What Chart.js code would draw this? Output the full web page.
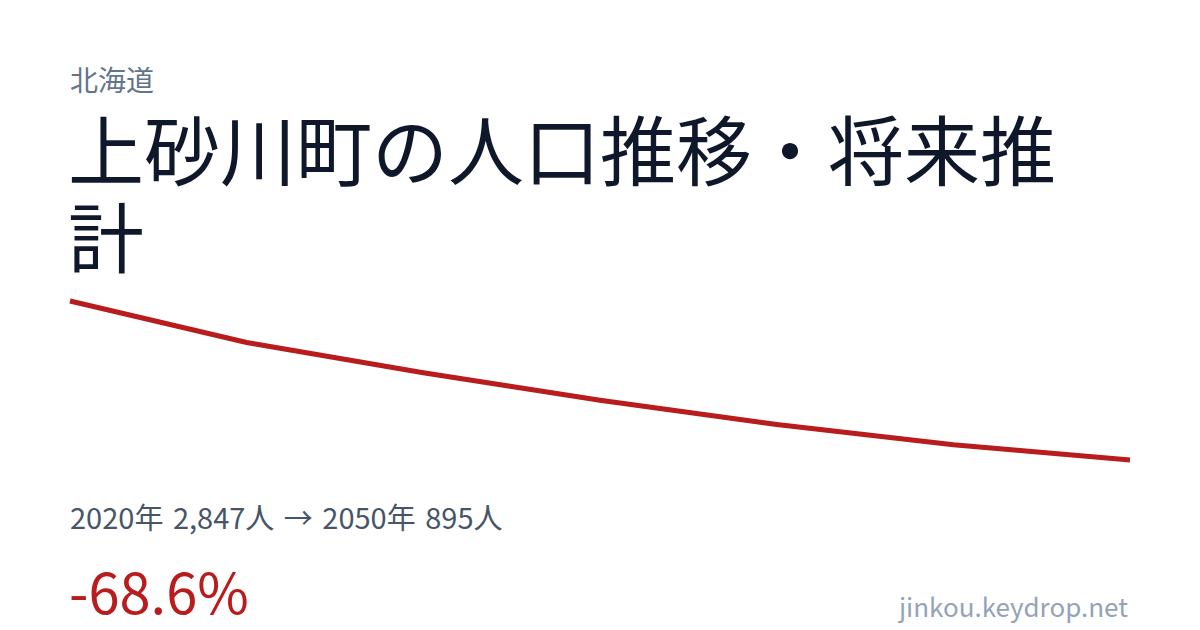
<!DOCTYPE html>
<html lang="ja">
<head>
<meta charset="utf-8">
<script src="https://cdn.jsdelivr.net/npm/chart.js@4"></script>
<style>
  html, body { margin: 0; padding: 0; background: #ffffff; }
  body {
    width: 1200px; height: 630px; position: relative; overflow: hidden;
    font-family: "Noto Sans CJK JP", "Noto Sans", sans-serif;
  }
  #pref { position: absolute; left: 70px; top: 61px; font-size: 28px; line-height: 36px; color: #64748b; }
  #title { position: absolute; left: 68px; top: 104px; font-size: 76px; line-height: 87px; color: #0f172a; white-space: nowrap; }
  #chart-wrap { position: absolute; left: 60px; top: 290px; width: 1080px; height: 180px; }
  #summary { position: absolute; left: 70px; top: 497px; font-size: 29px; line-height: 38px; color: #475569; word-spacing: 3px; }
  #change { position: absolute; left: 69px; top: 556px; font-size: 56px; line-height: 68px; color: #b91c1c; }
  #site { position: absolute; right: 72px; top: 589px; font-size: 26px; line-height: 34px; color: #94a3b8; }
</style>
</head>
<body>
<div id="pref">北海道</div>
<div id="title">上砂川町の人口推移・将来推<br>計</div>
<div id="chart-wrap"><canvas id="popChart"></canvas></div>
<div id="summary">2020年 2,847人 → 2050年 895人</div>
<div id="change">-68.6%</div>
<div id="site">jinkou.keydrop.net</div>

<script>
// 年次と人口（推計値は図から読み取り）
const years = ['2020', '2025', '2030', '2035', '2040', '2045', '2050'];
const population = [2847, 2338, 1967, 1628, 1332, 1082, 895];

document.addEventListener('DOMContentLoaded', function() {
    const ctx = document.getElementById('popChart').getContext('2d');

    new Chart(ctx, {
        type: 'line',
        data: {
            labels: years,
            datasets: [{
                label: '人口',
                data: population,
                borderColor: '#b91c1c',
                borderWidth: 5,
                pointRadius: 0,
                tension: 0,
                fill: false,
                clip: false
            }]
        },
        options: {
            responsive: true,
            maintainAspectRatio: false,
            animation: false,
            layout: {
                padding: { left: 10, right: 10, top: 11, bottom: 10 }
            },
            scales: {
                x: { display: false, offset: false },
                y: {
                    display: false,
                    min: Math.min(...population),
                    max: Math.max(...population)
                }
            },
            plugins: {
                legend: { display: false },
                tooltip: { enabled: false }
            }
        }
    });
});
</script>
</body>
</html>
